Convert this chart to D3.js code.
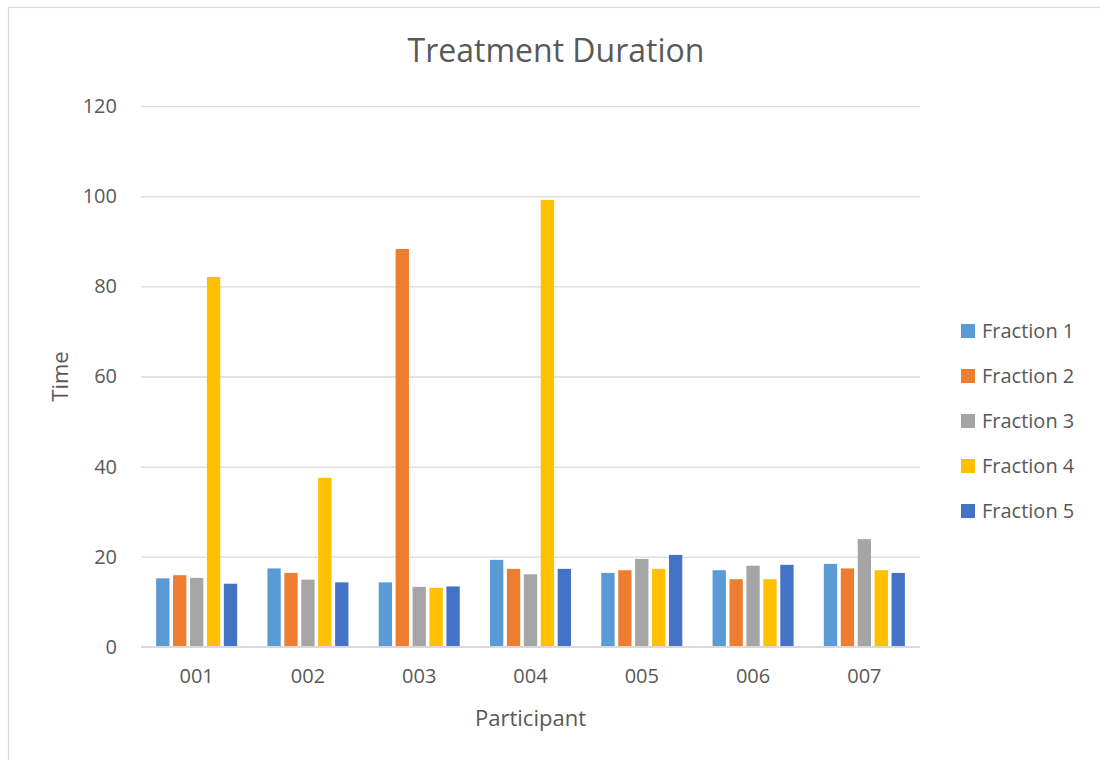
<!DOCTYPE html>
<html>
<head>
<meta charset="utf-8">
<script src="https://cdn.jsdelivr.net/npm/d3@7"></script>
<style>
  html, body { margin: 0; padding: 0; background: #fff; }
  svg { display: block; font-family: "Open Sans", "Noto Sans", sans-serif; }
</style>
</head>
<body>
<svg id="chart" width="1100" height="760"></svg>
<script>
// Participants on the x axis
const participants = ["001", "002", "003", "004", "005", "006", "007"];

// Treatment time per fraction, one array per series
const fraction1 = [15.2, 17.4, 14.3, 19.3, 16.4, 17.0, 18.4];
const fraction2 = [15.9, 16.4, 88.3, 17.3, 17.0, 15.0, 17.4];
const fraction3 = [15.3, 14.9, 13.3, 16.1, 19.5, 18.0, 23.9];
const fraction4 = [82.1, 37.5, 13.1, 99.2, 17.3, 15.0, 17.0];
const fraction5 = [14.0, 14.3, 13.4, 17.3, 20.4, 18.2, 16.4];

const seriesNames = ["Fraction 1", "Fraction 2", "Fraction 3", "Fraction 4", "Fraction 5"];
const seriesValues = [fraction1, fraction2, fraction3, fraction4, fraction5];
const seriesColors = ["#5B9BD5", "#ED7D31", "#A5A5A5", "#FFC000", "#4472C4"];

const yTicks = [0, 20, 40, 60, 80, 100, 120];

const textColor = "#595959";
const gridColor = "#d9d9d9";

const svg = d3.select("#chart");

// Chart frame
svg.append("rect")
  .attr("x", 8.5).attr("y", 7.5)
  .attr("width", 1120).attr("height", 780)
  .attr("fill", "#fff")
  .attr("stroke", gridColor)
  .attr("stroke-width", 1.2);

const plot = { left: 141, right: 920, top: 106.2, bottom: 646.8 };

const x0 = d3.scaleBand()
  .domain(participants)
  .range([plot.left, plot.right])
  .paddingInner(0.272)
  .paddingOuter(0.136);

const x1 = d3.scaleBand()
  .domain(seriesNames)
  .range([0, x0.bandwidth()])
  .paddingInner(0.213)
  .paddingOuter(0);

const y = d3.scaleLinear()
  .domain([0, 120])
  .range([plot.bottom, plot.top]);

// Horizontal gridlines and y labels
const yAxis = d3.axisLeft(y)
  .tickValues(yTicks)
  .tickSize(-(plot.right - plot.left))
  .tickPadding(24)
  .tickFormat(d3.format("d"));

const yG = svg.append("g")
  .attr("transform", `translate(${plot.left},0)`)
  .call(yAxis);
yG.select(".domain").remove();
yG.selectAll(".tick line")
  .attr("stroke", gridColor)
  .attr("stroke-width", 1.3);
yG.selectAll(".tick text")
  .attr("fill", textColor)
  .attr("font-size", 20)
  .attr("font-family", "'Open Sans', sans-serif");

// Bars
const groups = svg.append("g")
  .selectAll("g")
  .data(participants)
  .join("g")
  .attr("transform", d => `translate(${x0(d)},0)`);

groups.selectAll("rect")
  .data((d, i) => seriesNames.map((name, s) => ({ name, value: seriesValues[s][i], color: seriesColors[s] })))
  .join("rect")
  .attr("x", d => x1(d.name))
  .attr("y", d => y(d.value))
  .attr("width", x1.bandwidth())
  .attr("height", d => y(0) - y(d.value))
  .attr("fill", d => d.color);

// Baseline
svg.append("line")
  .attr("x1", plot.left).attr("x2", plot.right)
  .attr("y1", y(0)).attr("y2", y(0))
  .attr("stroke", gridColor)
  .attr("stroke-width", 1.5);

// Category labels
const xAxis = d3.axisBottom(x0).tickSize(0).tickPadding(22);
const xG = svg.append("g")
  .attr("transform", `translate(0,${plot.bottom})`)
  .call(xAxis);
xG.select(".domain").remove();
xG.selectAll(".tick text")
  .attr("fill", textColor)
  .attr("font-size", 20)
  .attr("font-family", "'Open Sans', sans-serif");

// Title
svg.append("text")
  .attr("x", 556).attr("y", 62)
  .attr("text-anchor", "middle")
  .attr("fill", textColor)
  .attr("font-size", 32)
  .text("Treatment Duration");

// Axis titles
svg.append("text")
  .attr("x", (plot.left + plot.right) / 2).attr("y", 726)
  .attr("text-anchor", "middle")
  .attr("fill", textColor)
  .attr("font-size", 22)
  .text("Participant");

svg.append("text")
  .attr("transform", `translate(68,${(plot.top + plot.bottom) / 2}) rotate(-90)`)
  .attr("text-anchor", "middle")
  .attr("fill", textColor)
  .attr("font-size", 22)
  .text("Time");

// Legend
const legend = svg.append("g")
  .selectAll("g")
  .data(seriesNames)
  .join("g")
  .attr("transform", (d, i) => `translate(961,${331 + i * 45})`);

legend.append("rect")
  .attr("x", 0).attr("y", -7)
  .attr("width", 14).attr("height", 14)
  .attr("fill", (d, i) => seriesColors[i]);

legend.append("text")
  .attr("x", 21).attr("y", 0)
  .attr("dy", "0.35em")
  .attr("fill", textColor)
  .attr("font-size", 20)
  .text(d => d);
</script>
</body>
</html>
